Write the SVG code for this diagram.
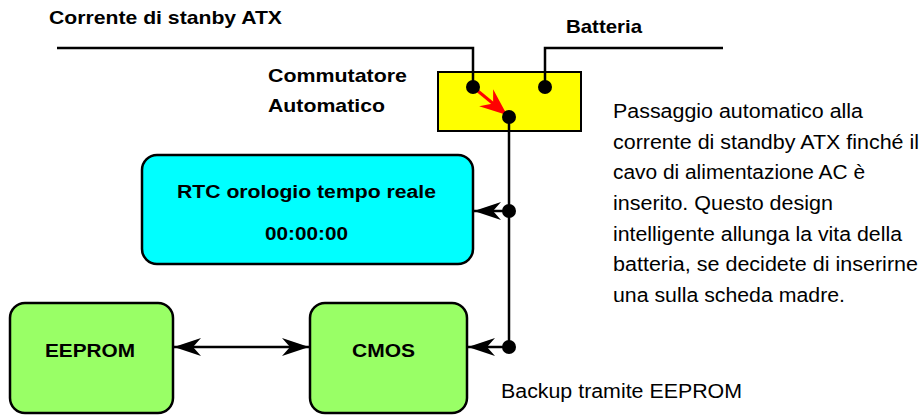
<svg xmlns="http://www.w3.org/2000/svg" width="923" height="415" viewBox="0 0 923 415">
<style>
.b{font-family:"Liberation Sans",Arial,sans-serif;font-weight:bold;fill:#000}
.r{font-family:"Liberation Sans",Arial,sans-serif;font-size:20px;fill:#000}
.w{fill:none;stroke:#000;stroke-width:2.5}
.box{stroke:#000;stroke-width:2.5}
</style>
<defs>
<marker id="ah" markerUnits="userSpaceOnUse" viewBox="-28 -10 30 20" refX="0" refY="0" markerWidth="30" markerHeight="20" orient="auto-start-reverse">
<path d="M0,0 L-27,-9 L-19,0 L-27,9 Z" fill="#000"/>
</marker>
<marker id="ahr" markerUnits="userSpaceOnUse" viewBox="-28 -12 30 24" refX="0" refY="0" markerWidth="30" markerHeight="24" orient="auto">
<path d="M0,0 L-27,-11 L-18,0 L-27,11 Z" fill="#f00"/>
</marker>
</defs>
<rect width="923" height="415" fill="#fff"/>

<g id="labels">
<text class="b" x="49" y="24" font-size="19" textLength="233" lengthAdjust="spacingAndGlyphs">Corrente di stanby ATX</text>
<text class="b" x="566" y="33" font-size="19" textLength="76" lengthAdjust="spacingAndGlyphs">Batteria</text>
<text class="b" x="268" y="82" font-size="19" textLength="139" lengthAdjust="spacingAndGlyphs">Commutatore</text>
<text class="b" x="268" y="112" font-size="19" textLength="117" lengthAdjust="spacingAndGlyphs">Automatico</text>
<text class="r" x="501" y="398" textLength="241" lengthAdjust="spacingAndGlyphs">Backup tramite EEPROM</text>
</g>

<g id="note">
<text class="r" x="613" y="118" textLength="250" lengthAdjust="spacingAndGlyphs">Passaggio automatico alla</text>
<text class="r" x="613" y="148.7" textLength="306" lengthAdjust="spacingAndGlyphs">corrente di standby ATX finché il</text>
<text class="r" x="613" y="179.3" textLength="252" lengthAdjust="spacingAndGlyphs">cavo di alimentazione AC è</text>
<text class="r" x="613" y="210" textLength="220" lengthAdjust="spacingAndGlyphs">inserito. Questo design</text>
<text class="r" x="613" y="240.7" textLength="289" lengthAdjust="spacingAndGlyphs">intelligente allunga la vita della</text>
<text class="r" x="613" y="271.3" textLength="305" lengthAdjust="spacingAndGlyphs">batteria, se decidete di inserirne</text>
<text class="r" x="613" y="302" textLength="232" lengthAdjust="spacingAndGlyphs">una sulla scheda madre.</text>
</g>

<g id="switch">
<rect x="438" y="72" width="143" height="59" fill="#ff0" stroke="#000" stroke-width="2"/>
</g>

<g id="rtc">
<rect class="box" x="142" y="155" width="331" height="109" rx="15" fill="#0ff"/>
<text class="b" x="177" y="198" font-size="18" textLength="259" lengthAdjust="spacingAndGlyphs">RTC orologio tempo reale</text>
<text class="b" x="265" y="240" font-size="18" textLength="83" lengthAdjust="spacingAndGlyphs">00:00:00</text>
</g>

<g id="eeprom">
<rect class="box" x="10" y="303" width="163" height="110" rx="15" fill="#9f6"/>
<text class="b" x="45" y="357" font-size="19" textLength="90" lengthAdjust="spacingAndGlyphs">EEPROM</text>
</g>

<g id="cmos">
<rect class="box" x="310" y="303" width="157" height="110" rx="15" fill="#9f6"/>
<text class="b" x="352" y="357" font-size="19" textLength="63" lengthAdjust="spacingAndGlyphs">CMOS</text>
</g>

<g id="connectors">
<polyline class="w" points="57,48 473,48 473,87"/>
<polyline class="w" points="723,48 545,48 545,87"/>
<line class="w" x1="509" y1="117" x2="509" y2="347"/>
<line class="w" x1="509" y1="211" x2="474" y2="211" marker-end="url(#ah)"/>
<line class="w" x1="509" y1="347" x2="468" y2="347" marker-end="url(#ah)"/>
<line class="w" x1="174" y1="347" x2="309" y2="347" marker-start="url(#ah)" marker-end="url(#ah)"/>
<line x1="473" y1="87" x2="507" y2="115" stroke="#f00" stroke-width="3" marker-end="url(#ahr)"/>
<circle cx="473" cy="87" r="7"/>
<circle cx="545" cy="87" r="7"/>
<circle cx="509" cy="117" r="7"/>
<circle cx="509" cy="211" r="7"/>
<circle cx="509" cy="347" r="7"/>
</g>
</svg>
